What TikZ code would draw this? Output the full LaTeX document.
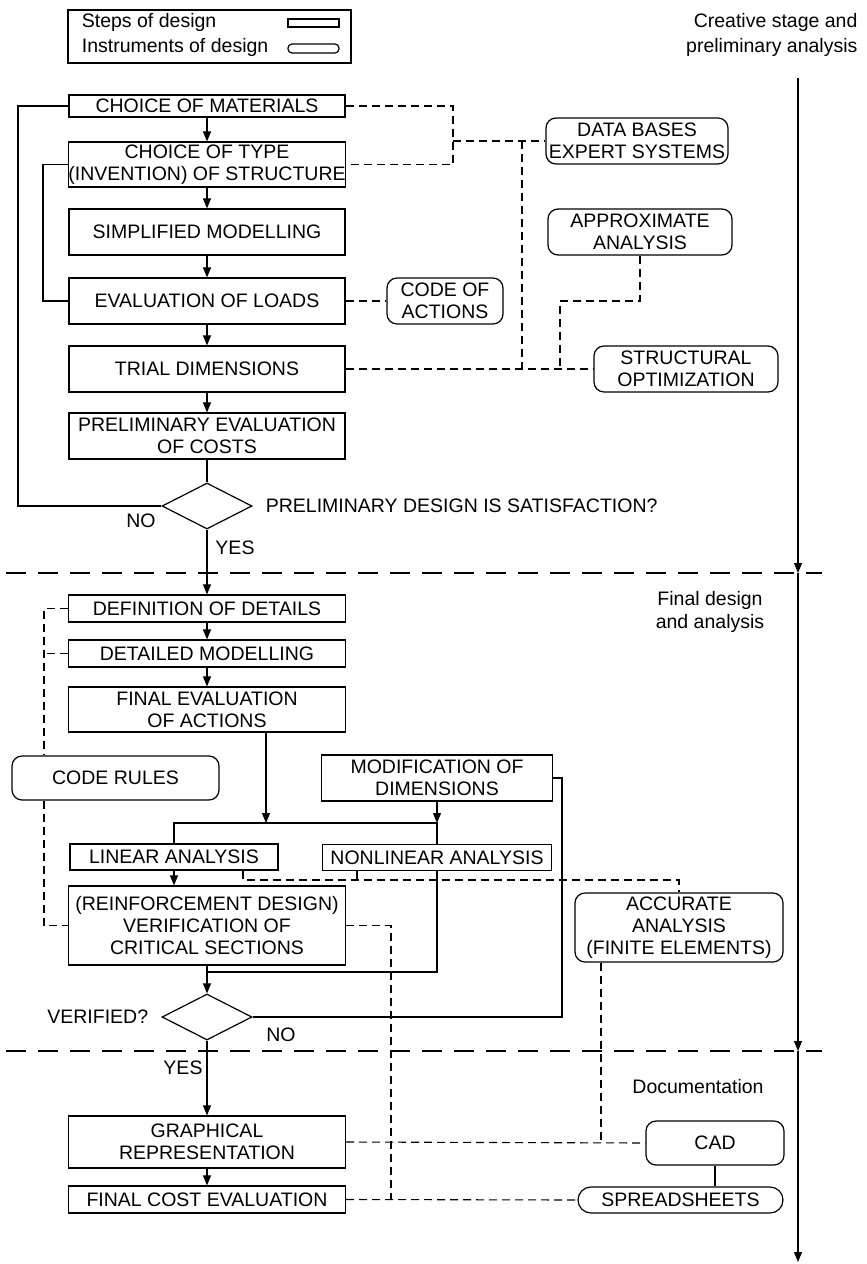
\documentclass[tikz,border=0pt]{standalone}
\usepackage{fontspec}
\setmainfont{Liberation Sans}
\usetikzlibrary{arrows.meta,shapes.geometric}

\tikzset{
  stepbox/.style={draw, rectangle, align=center, inner sep=0pt, line width=1.2pt},
  toolbox/.style={draw, rectangle, rounded corners=10pt, align=center, inner sep=0pt, line width=1.2pt},
  boxsize/.style 2 args={minimum width=#1pt, minimum height=#2pt},
  decision/.style={draw, diamond, inner sep=0pt, minimum width=90pt, minimum height=46pt, line width=1.2pt},
  link/.style={dash pattern=on 8pt off 5pt, line width=1.1pt},
  stageline/.style={dash pattern=on 20pt off 12pt, line width=1.2pt},
  >={Triangle[length=10pt,width=8pt]},
}

\begin{document}
\begin{tikzpicture}[x=1pt, y=-1pt, line width=1.1pt,
    font=\fontsize{19.5}{22}\selectfont]
   \useasboundingbox (0,0) rectangle (867,1264);

   % legend
   \node[stepbox, boxsize={283}{53}] (legend) at (209.5,36.5) {};
   \node[anchor=west] (lsteps) at (78,22) {Steps of design};
   \node[anchor=west] (linstr) at (78,47) {Instruments of design};
   \draw[line width=1.2pt] (288,19) rectangle (339,27);
   \draw[line width=1.2pt, rounded corners=4pt] (288,44) rectangle (339,53);

   % stages
   \node[anchor=east, align=right, inner sep=0pt, font=\fontsize{19.5}{25}\selectfont] (stage1) at (858,34.5) {Creative stage and\\preliminary analysis};
   \node[align=center, font=\fontsize{19.5}{23}\selectfont] (stage2) at (710,611.5) {Final design\\and analysis};
   \node (stage3) at (698,1087) {Documentation};
   \coordinate (st) at (798,78);
   \coordinate (s1) at (798,573);
   \coordinate (s2) at (798,1051);
   \coordinate (s3) at (798,1262);
   \draw[->] (st) -- (s1);
   \draw[->] (s1) -- (s2);
   \draw[->] (s2) -- (s3);
   \draw[stageline] (6,573) -- (822,573);
   \draw[stageline] (6,1051) -- (822,1051);

   % preliminary design
   \node[stepbox, boxsize={276}{22}] (mat) at (207,106) {CHOICE OF MATERIALS};
   \node[stepbox, boxsize={276}{45}] (type) at (207,164.5) {CHOICE OF TYPE\\(INVENTION) OF STRUCTURE};
   \node[stepbox, boxsize={276}{46}] (simp) at (207,232) {SIMPLIFIED MODELLING};
   \node[stepbox, boxsize={276}{46}] (loads) at (207,301) {EVALUATION OF LOADS};
   \node[stepbox, boxsize={276}{46}] (trial) at (207,369) {TRIAL DIMENSIONS};
   \node[stepbox, boxsize={276}{46}] (prelim) at (207,436) {PRELIMINARY EVALUATION\\OF COSTS};
   \node[decision] (sat) at (207,506) {};
   \node[anchor=west] (satq) at (262,506) {PRELIMINARY DESIGN IS SATISFACTION?};
   \node (satno) at (141,521) {NO};
   \node (satyes) at (235,548) {YES};

   \node[toolbox, boxsize={182}{46}] (databases) at (637,141) {DATA BASES\\EXPERT SYSTEMS};
   \node[toolbox, boxsize={184}{46}] (approx) at (640,232) {APPROXIMATE\\ANALYSIS};
   \node[toolbox, boxsize={116}{46}] (codeact) at (445,301) {CODE OF\\ACTIONS};
   \node[toolbox, boxsize={184}{46}] (structopt) at (686,369) {STRUCTURAL\\OPTIMIZATION};

   \draw[->] (mat) -- (type);
   \draw[->] (type) -- (simp);
   \draw[->] (simp) -- (loads);
   \draw[->] (loads) -- (trial);
   \draw[->] (trial) -- (prelim);
   \draw (prelim) -- (sat);
   \coordinate (fa) at (18,106);
   \coordinate (fb) at (43,164.5);
   \draw (sat.west) -| (fa) -- (mat.west);
   \draw (loads.west) -| (fb) -- (type.west);

   \coordinate (da) at (453,106);
   \coordinate (db) at (453,141);
   \coordinate (dc) at (522,141);
   \coordinate (dd) at (560,301);
   \draw[link] (mat.east) -- (da) |- (type.east);
   \draw[link] (db) -- (databases.west);
   \draw[link] (dc) -- (dc |- trial.east);
   \draw[link] (trial.east) -- (structopt.west);
   \draw[link] (approx.south) |- (dd) -- (dd |- trial.east);
   \draw[link] (loads.east) -- (codeact.west);

   % final design
   \node[stepbox, boxsize={277}{27}] (defdet) at (207,608.5) {DEFINITION OF DETAILS};
   \node[stepbox, boxsize={277}{27}] (detmod) at (207,653.5) {DETAILED MODELLING};
   \node[stepbox, boxsize={277}{45}] (finev) at (207,709.5) {FINAL EVALUATION\\OF ACTIONS};
   \node[toolbox, boxsize={207}{44}] (coderules) at (115.5,778) {CODE RULES};
   \node[stepbox, boxsize={231}{46}] (modif) at (437,778) {MODIFICATION OF\\DIMENSIONS};
   \node[stepbox, boxsize={208}{26}] (linear) at (174,857) {LINEAR ANALYSIS};
   \node[stepbox, boxsize={229}{26}] (nonlin) at (437,857.5) {NONLINEAR ANALYSIS};
   \node[stepbox, boxsize={277}{79}] (reinf) at (207,925.5) {(REINFORCEMENT DESIGN)\\VERIFICATION OF\\CRITICAL SECTIONS};
   \node[toolbox, boxsize={208}{69}] (accur) at (679,927.5) {ACCURATE\\ANALYSIS\\(FINITE ELEMENTS)};
   \node[decision] (verif) at (207,1017) {};
   \node[anchor=east] (verifq) at (152,1017) {VERIFIED?};
   \node (verifno) at (281,1035) {NO};
   \node (verifyes) at (183,1068) {YES};

   \draw[->] (sat) -- (defdet);
   \draw[->] (defdet) -- (detmod);
   \draw[->] (detmod) -- (finev);
   \coordinate (ja) at (266,823);
   \coordinate (jl) at (174,823);
   \coordinate (jr) at (437,823);
   \coordinate (jb) at (207,972);
   \coordinate (jm) at (562,778);
   \draw[->] (finev.south -| ja) -- (ja);
   \draw[->] (modif) -- (jr);
   \draw (linear) -- (jl) -- (jr) -- (nonlin);
   \draw[->] (linear.south) -- (linear.south |- reinf.north);
   \draw (nonlin.south) |- (jb);
   \draw[->] (reinf) -- (verif);
   \draw (verif.east) -| (jm) -- (modif.east);

   \coordinate (de) at (44,608.5);
   \coordinate (dl) at (243,880);
   \coordinate (dn) at (357,880);
   \coordinate (dr) at (391,925.5);
   \coordinate (dx) at (601,1142);
   \draw[link] (defdet.west) -- (de) -- (de |- coderules.north);
   \draw[link] (detmod.west) -- (detmod.west -| de);
   \draw[link] (de |- coderules.south) |- (reinf.west);
   \draw[link] (linear.south -| dl) -- (dl) -| (accur.north);
   \draw[link] (nonlin.south -| dn) -- (dn);

   % documentation
   \node[stepbox, boxsize={277}{52}] (graph) at (207,1142) {GRAPHICAL\\REPRESENTATION};
   \node[stepbox, boxsize={277}{27}] (fincost) at (207,1199.5) {FINAL COST EVALUATION};
   \node[toolbox, boxsize={138}{44}] (cad) at (715,1143) {CAD};
   \node[toolbox, rounded corners=13pt, boxsize={205}{26}] (spread) at (680.5,1200) {SPREADSHEETS};

   \draw[->] (verif) -- (graph);
   \draw[->] (graph) -- (fincost);
   \draw[link] (reinf.east) -- (dr) -- (dr |- fincost.east);
   \draw[link] (fincost.east) -- (spread.west);
   \draw[link] (accur.south -| dx) -- (dx);
   \draw[link] (graph.east) -- (cad.west);
   \draw (cad) -- (cad |- spread.north);
\end{tikzpicture}
\end{document}
